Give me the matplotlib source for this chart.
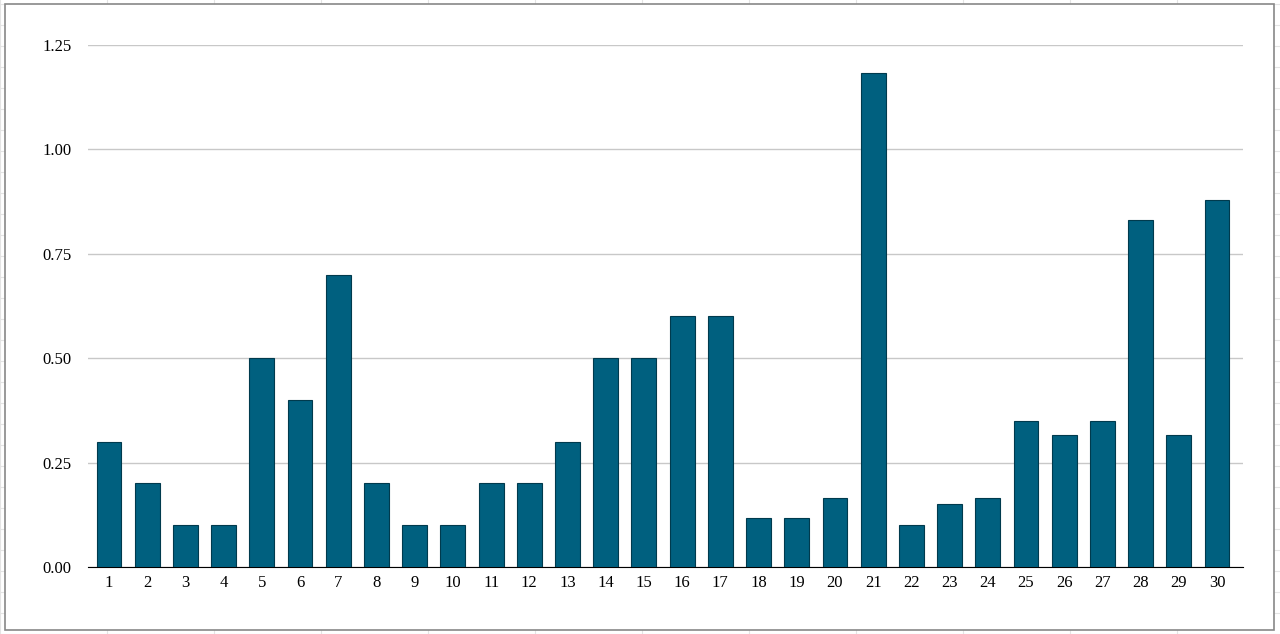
import matplotlib
matplotlib.use("Agg")
import matplotlib.pyplot as plt
from matplotlib.patches import Rectangle

plt.rcParams['font.family'] = ['Liberation Serif', 'DejaVu Serif']

# data
days = [str(i) for i in range(1, 31)]
values = [0.30, 0.20, 0.10, 0.10, 0.50, 0.40, 0.70, 0.20, 0.10, 0.10,
          0.20, 0.20, 0.30, 0.50, 0.50, 0.60, 0.60, 0.117, 0.117, 0.165,
          1.183, 0.10, 0.15, 0.165, 0.35, 0.317, 0.35, 0.83, 0.317, 0.88]
yticks = [0.0, 0.25, 0.5, 0.75, 1.0, 1.25]

fig = plt.figure(figsize=(12.8, 6.34), dpi=100)
# faint spreadsheet grid behind the chart
for gx in range(0, 1280, 107):
    fig.add_artist(plt.Line2D([gx / 1280, gx / 1280], [0, 1], color="#e4e4e4", lw=0.8, zorder=-2))
for gy in range(0, 634, 21):
    fig.add_artist(plt.Line2D([0, 1], [gy / 634, gy / 634], color="#e4e4e4", lw=0.8, zorder=-2))
fig.add_artist(Rectangle((5 / 1280, 4 / 634), 1269 / 1280, 626 / 634, transform=fig.transFigure,
                         facecolor="white", edgecolor="#888888", lw=1.2, zorder=-1))

ax = fig.add_axes([88 / 1280, 67 / 634, 1155 / 1280, 522 / 634])
ax.set_facecolor("none")
x = list(range(1, 31))
ax.bar(x, values, width=0.65, color="#00607f", edgecolor="#003a4d", linewidth=0.8, zorder=3)
ax.set_xlim(0.45, 30.68)
ax.set_ylim(0, 1.25)
ax.set_yticks(yticks)
ax.set_yticklabels([f"{v:.2f}" for v in yticks])
ax.set_xticks(x)
ax.set_xticklabels(days)
ax.yaxis.grid(True, color="#c8c8c8", lw=1, zorder=0)
ax.set_axisbelow(True)
for s in ["top", "right", "left"]:
    ax.spines[s].set_visible(False)
ax.spines["bottom"].set_color("black")
ax.tick_params(axis="y", length=0, labelsize=12, pad=12)
ax.tick_params(axis="x", length=0, labelsize=12, pad=6)

fig.savefig("out.png", dpi=100)
